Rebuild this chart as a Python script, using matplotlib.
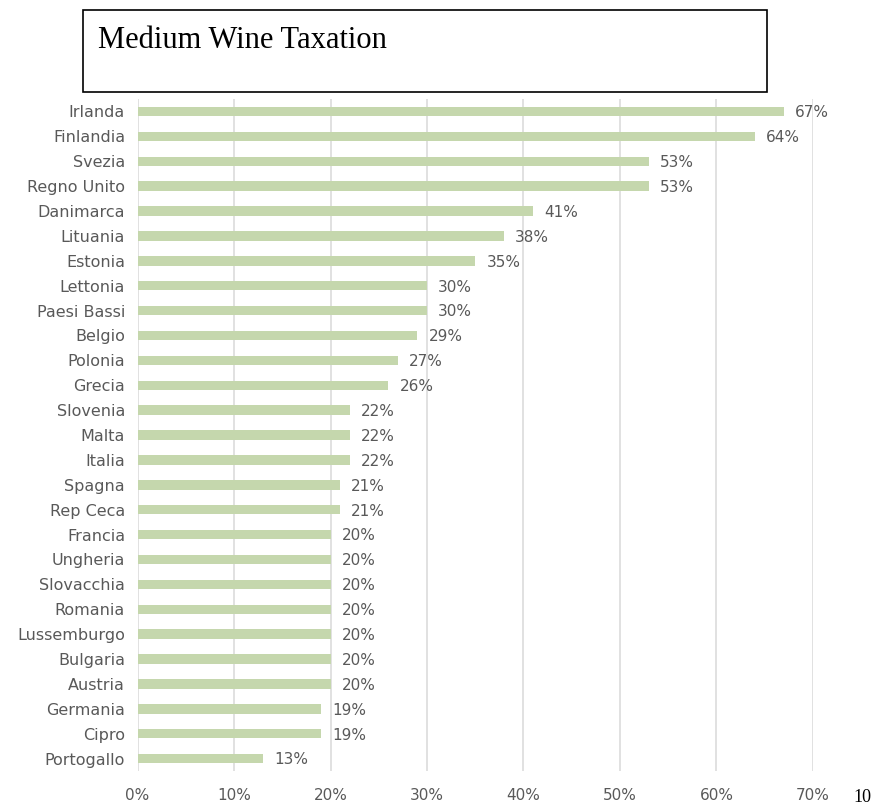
import matplotlib
matplotlib.use("Agg")
import matplotlib.pyplot as plt
import matplotlib.patches as mpatches
from matplotlib import font_manager

# Data
countries = ['Irlanda', 'Finlandia', 'Svezia', 'Regno Unito', 'Danimarca', 'Lituania',
             'Estonia', 'Lettonia', 'Paesi Bassi', 'Belgio', 'Polonia', 'Grecia',
             'Slovenia', 'Malta', 'Italia', 'Spagna', 'Rep Ceca', 'Francia', 'Ungheria',
             'Slovacchia', 'Romania', 'Lussemburgo', 'Bulgaria', 'Austria', 'Germania',
             'Cipro', 'Portogallo']
tax_rates = [67, 64, 53, 53, 41, 38, 35, 30, 30, 29, 27, 26, 22, 22, 22, 21, 21, 20,
             20, 20, 20, 20, 20, 20, 19, 19, 13]
x_ticks = [0, 10, 20, 30, 40, 50, 60, 70]

bar_color = '#c5d7ad'
text_color = '#595959'

# narrow font for the country names if it exists
installed = {f.name for f in font_manager.fontManager.ttflist}
label_font = 'Liberation Sans Narrow' if 'Liberation Sans Narrow' in installed else 'DejaVu Sans'

fig = plt.figure(figsize=(8.76, 8.07), dpi=100)
ax = fig.add_axes([0.157, 0.0446, 0.771, 0.8327])

y = range(len(countries))
bars = ax.barh(y, tax_rates, height=0.38, color=bar_color, zorder=2)

ax.set_xlim(0, 70)
ax.set_ylim(len(countries) - 0.5, -0.5)

ax.set_xticks(x_ticks)
ax.set_xticklabels([f'{t}%' for t in x_ticks], fontsize=11, color=text_color)
ax.set_yticks(list(y))
ax.set_yticklabels(countries, fontsize=11.5, color=text_color, family=label_font)
ax.tick_params(axis='both', length=0)
ax.tick_params(axis='x', pad=12)
ax.tick_params(axis='y', pad=9)

ax.grid(axis='x', color='#d9d9d9', linewidth=1.1)
ax.set_axisbelow(True)
for s in ax.spines.values():
    s.set_visible(False)

# value labels next to the bars
for bar, v in zip(bars, tax_rates):
    ax.annotate(f'{v}%', xy=(bar.get_width(), bar.get_y() + bar.get_height() / 2),
                xytext=(8, -1), textcoords='offset points', ha='left', va='center',
                fontsize=11, color=text_color, annotation_clip=False)

# title box
fig.patches.append(mpatches.Rectangle((83 / 876, 1 - 92 / 807), (767 - 83) / 876, 82 / 807,
                                      transform=fig.transFigure, facecolor='white',
                                      edgecolor='black', linewidth=1.2))
fig.text(98 / 876, 1 - 40 / 807, 'Medium Wine Taxation', family='Liberation Serif',
         fontsize=22, ha='left', va='center', color='black')

# page number
fig.text(862 / 876, 1 - 797 / 807, '10', family='Liberation Serif', fontsize=13,
         ha='center', va='center', color='black')

plt.savefig('out.png', dpi=100, facecolor='white')
